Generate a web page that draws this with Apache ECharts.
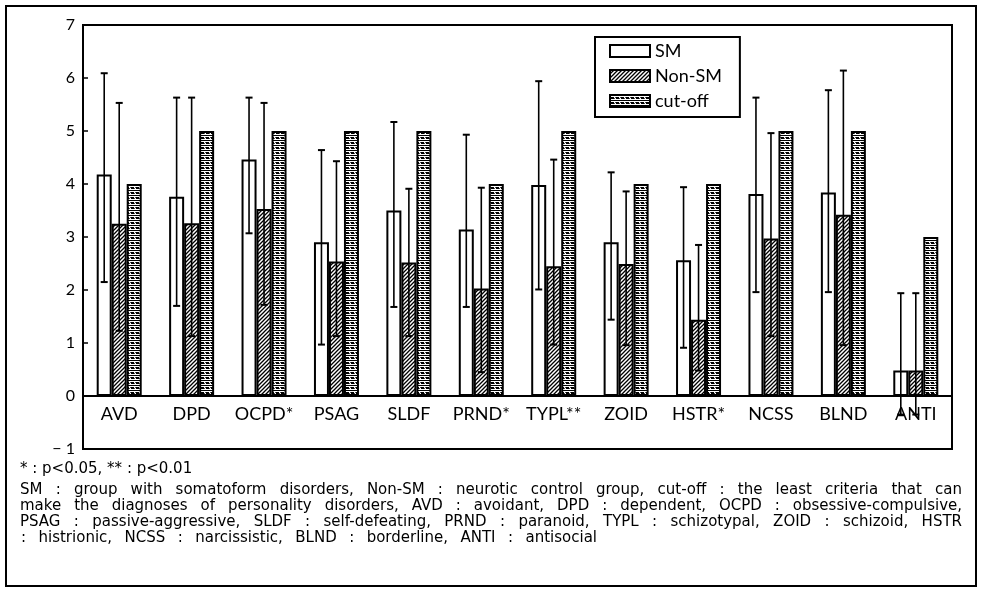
<!DOCTYPE html>
<html><head><meta charset="utf-8">
<script src="https://cdn.jsdelivr.net/npm/echarts@6/dist/echarts.min.js"></script>
<style>html,body{margin:0;padding:0;background:#fff}#c{width:982px;height:591px}</style>
</head><body><div id="c"></div>
<script>
// ---- data ----
const categories = ['AVD','DPD','OCPD*','PSAG','SLDF','PRND*','TYPL**','ZOID','HSTR*','NCSS','BLND','ANTI'];
const smMean  = [4.18, 3.76, 4.46, 2.90, 3.50, 3.14, 3.98, 2.90, 2.56, 3.81, 3.84, 0.48];
const smHigh  = [6.09, 5.63, 5.63, 4.64, 5.17, 4.93, 5.94, 4.22, 3.94, 5.63, 5.77, 1.94];
const smLow   = [2.15, 1.70, 3.07, 0.97, 1.68, 1.68, 2.01, 1.44, 0.91, 1.96, 1.96, -0.35];
const nonMean = [3.25, 3.26, 3.53, 2.54, 2.52, 2.03, 2.45, 2.49, 1.44, 2.97, 3.42, 0.48];
const nonHigh = [5.53, 5.63, 5.53, 4.43, 3.91, 3.93, 4.46, 3.86, 2.85, 4.96, 6.14, 1.94];
const nonLow  = [1.23, 1.13, 1.72, 1.13, 1.13, 0.45, 0.97, 0.96, 0.48, 1.13, 0.96, -0.35];
const cutoff  = [4, 5, 5, 5, 5, 4, 5, 4, 4, 5, 5, 3];
const yTicks  = [-1, 0, 1, 2, 3, 4, 5, 6, 7];
const seriesNames = ['SM', 'Non-SM', 'cut-off'];
const footLine1 = '* : p<0.05, ** : p<0.01';
const footJustified = [
  'SM : group with somatoform disorders, Non-SM : neurotic control group, cut-off : the least criteria that can',
  'make the diagnoses of personality disorders, AVD : avoidant, DPD : dependent, OCPD : obsessive-compulsive,',
  'PSAG : passive-aggressive, SLDF : self-defeating, PRND : paranoid, TYPL : schizotypal, ZOID : schizoid, HSTR'
];
const footLast = ': histrionic, NCSS : narcissistic, BLND : borderline, ANTI : antisocial';

// ---- patterns ----
function hatchPattern(){
  const s = 4, c = document.createElement('canvas'); c.width = s; c.height = s;
  const g = c.getContext('2d');
  g.fillStyle = '#fff'; g.fillRect(0,0,s,s);
  g.strokeStyle = '#000'; g.lineWidth = 1.3; g.beginPath();
  g.moveTo(-1, s+1); g.lineTo(s+1, -1);
  g.moveTo(-1, 1); g.lineTo(1, -1);
  g.moveTo(s-1, s+1); g.lineTo(s+1, s-1);
  g.stroke();
  return c;
}
function cutPattern(){
  const w = 5, h = 5, c = document.createElement('canvas'); c.width = w; c.height = h;
  const g = c.getContext('2d');
  g.fillStyle = '#fff'; g.fillRect(0,0,w,h);
  g.fillStyle = '#000';
  g.fillRect(0,0,w,1);
  g.fillRect(1,2,3,2);
  g.fillStyle = '#555';
  g.fillRect(0,2,1,1);
  g.fillRect(4,3,1,1);
  return c;
}
const hatch = {image: hatchPattern(), repeat: 'repeat'};
const cutFill = {image: cutPattern(), repeat: 'repeat'};

const BAR_W = 15;
function errRender(offset){
  return function(params, api){
    const i = api.value(0);
    const lo = api.coord([i, api.value(1)]);
    const hi = api.coord([i, api.value(2)]);
    const x = lo[0] + offset, cap = 3.5;
    return {type:'group', children:[
      {type:'line', shape:{x1:x, y1:hi[1], x2:x, y2:lo[1]}, style:{stroke:'#000', lineWidth:1.6}},
      {type:'line', shape:{x1:x-cap, y1:hi[1], x2:x+cap, y2:hi[1]}, style:{stroke:'#000', lineWidth:2}},
      {type:'line', shape:{x1:x-cap, y1:lo[1], x2:x+cap, y2:lo[1]}, style:{stroke:'#000', lineWidth:2}}
    ]};
  };
}
const smErr = categories.map((_, i) => [i, smLow[i], smHigh[i]]);
const nonErr = categories.map((_, i) => [i, nonLow[i], nonHigh[i]]);

// ---- footnote (justified words) ----
const FOOT_FONT = '15px "DejaVu Sans"';
const mctx = document.createElement('canvas').getContext('2d');
function measure(t){ mctx.font = FOOT_FONT; return mctx.measureText(t).width; }
function justify(text, x, y, width){
  const words = text.split(' ');
  const ws = words.map(measure);
  const total = ws.reduce((a,b)=>a+b, 0);
  const gap = (width - total) / (words.length - 1);
  let cx = x;
  return words.map((w, k) => {
    const el = {type:'text', x:cx, y:y, silent:true, style:{text:w, font:FOOT_FONT, fill:'#000', align:'left', verticalAlign:'middle'}};
    cx += ws[k] + gap;
    return el;
  });
}
const footY = [469, 490, 506, 522, 538];
let graphics = [
  {type:'rect', silent:true, shape:{x:6, y:6, width:970, height:580}, style:{fill:'none', stroke:'#000', lineWidth:2}},
  {type:'text', x:20, y:footY[0], silent:true, style:{text:footLine1, font:FOOT_FONT, fill:'#000', align:'left', verticalAlign:'middle'}}
];
footJustified.forEach((t, k) => { graphics = graphics.concat(justify(t, 20, footY[k+1], 942)); });
graphics = graphics.concat(justify(footLast, 21, footY[4], 576));

const chart = echarts.init(document.getElementById('c'), null, {renderer:'canvas'});
chart.setOption({
  animation: false,
  backgroundColor: '#fff',
  textStyle: {fontFamily: 'Lato', color: '#000'},
  grid: {left: 83, right: 30, top: 25, bottom: 142, show: true, borderColor: '#000', borderWidth: 2, outerBoundsMode: 'none'},
  legend: {
    orient: 'vertical', left: 595, top: 37,
    padding: [5, 18, 7, 14], itemGap: 7, itemWidth: 40, itemHeight: 12,
    borderColor: '#000', borderWidth: 2, icon: 'rect',
    textStyle: {fontFamily: 'Lato', fontSize: 18, color: '#000'},
    data: [
      {name: seriesNames[0], itemStyle: {color: '#fff', borderColor: '#000', borderWidth: 2}},
      {name: seriesNames[1], itemStyle: {color: hatch, borderColor: '#000', borderWidth: 2}},
      {name: seriesNames[2], itemStyle: {color: cutFill, borderColor: '#000', borderWidth: 2}}
    ]
  },
  xAxis: {
    type: 'category', data: categories, position: 'bottom',
    axisLine: {onZero: false, lineStyle: {color: '#000', width: 2}},
    axisTick: {show: false},
    axisLabel: {margin: -44, fontSize: 18, color: '#000', fontFamily: 'Lato', interval: 0},
    splitLine: {show: false}
  },
  yAxis: {
    type: 'value', min: yTicks[0], max: yTicks[yTicks.length-1], interval: 1,
    axisLine: {show: true, lineStyle: {color: '#000', width: 2}},
    axisTick: {show: true, inside: true, length: 5, lineStyle: {color: '#000', width: 1.5}},
    axisLabel: {margin: 8, fontSize: 16, color: '#000', fontFamily: 'Lato',
      formatter: v => v < 0 ? '\u2212 ' + Math.abs(v) : String(v)},
    splitLine: {show: false}
  },
  series: [
    {name: seriesNames[0], type: 'bar', data: smMean, barWidth: BAR_W, barGap: '0%', z: 2,
      itemStyle: {color: '#fff', borderColor: '#000', borderWidth: 2},
      markLine: {silent: true, symbol: 'none', label: {show: false}, animation: false,
        lineStyle: {color: '#000', width: 2, type: 'solid'}, data: [{yAxis: 0}]}},
    {name: seriesNames[1], type: 'bar', data: nonMean, barWidth: BAR_W, barGap: '0%', z: 2,
      itemStyle: {color: hatch, borderColor: '#000', borderWidth: 2}},
    {name: seriesNames[2], type: 'bar', data: cutoff, barWidth: BAR_W, barGap: '0%', z: 2,
      itemStyle: {color: cutFill, borderColor: '#000', borderWidth: 2}},
    {type: 'custom', data: smErr, renderItem: errRender(-BAR_W), encode: {x: 0, y: [1, 2]}, z: 5, silent: true},
    {type: 'custom', data: nonErr, renderItem: errRender(0), encode: {x: 0, y: [1, 2]}, z: 5, silent: true}
  ],
  graphic: graphics
});
</script>
</body></html>
